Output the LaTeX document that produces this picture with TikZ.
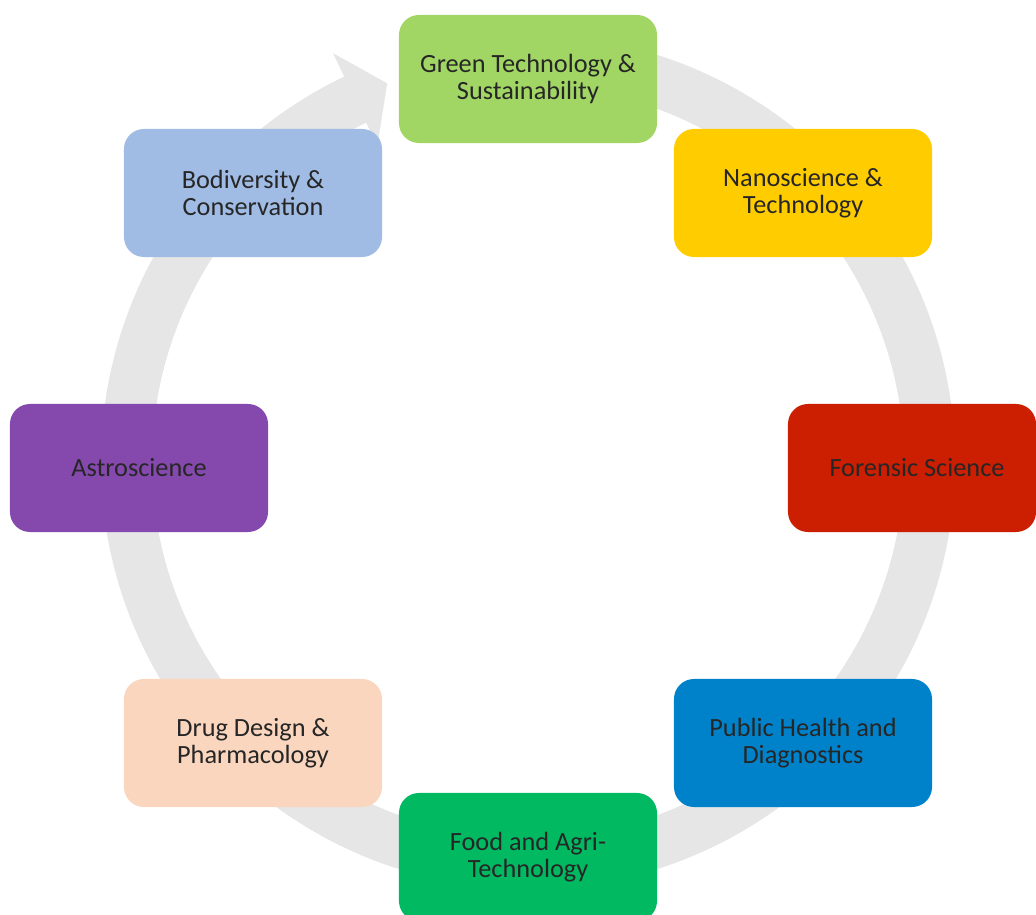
\documentclass[tikz,border=0pt]{standalone}
\usepackage{fontspec}
\setmainfont{Carlito}
\usetikzlibrary{calc}
\definecolor{ringgray}{RGB}{230,230,230}
\definecolor{txt}{RGB}{38,38,38}
\definecolor{cgreen}{RGB}{161,213,100}
\definecolor{cnano}{RGB}{255,204,0}
\definecolor{cforensic}{RGB}{204,30,0}
\definecolor{cpublic}{RGB}{0,130,202}
\definecolor{cfood}{RGB}{0,185,97}
\definecolor{cdrug}{RGB}{250,214,190}
\definecolor{castro}{RGB}{133,72,173}
\definecolor{cbio}{RGB}{160,188,228}
\tikzset{
  topic/.style={rounded corners=0.5cm, minimum width=6.45cm, minimum height=3.2cm,
    align=center, text=txt, font=\fontsize{18.7}{19.2}\selectfont, inner sep=0pt},
}
\begin{document}
\begin{tikzpicture}[x=0.025cm,y=0.025cm]
\useasboundingbox (0,0) rectangle (1036,914);
\coordinate (c) at (528,452);
% circular arrow
\fill[ringgray] ($(c)+(85:427)$) arc[start angle=85, end angle=-244.5, radius=427]
  -- ($(c)+(-244.5:453)$) -- ($(c)+(-249.6:404)$) -- ($(c)+(-244.5:350)$)
  -- ($(c)+(-244.5:376)$) arc[start angle=-244.5, end angle=85, radius=376] -- cycle;
% topics
\node[topic, fill=cgreen] (green) at (528,835) {Green Technology \&\\Sustainability};
\node[topic, fill=cnano] (nano) at (803,721) {Nanoscience \&\\Technology};
\node[topic, fill=cforensic, minimum width=6.2cm] (forensic) at (912,446) {\hspace*{0.25cm}Forensic Science};
\node[topic, fill=cpublic] (public) at (803,171) {Public Health and\\Diagnostics};
\node[topic, fill=cfood] (food) at (528,57) {Food and Agri-\\Technology};
\node[topic, fill=cdrug] (drug) at (253,171) {Drug Design \&\\Pharmacology};
\node[topic, fill=castro] (astro) at (139,446) {Astroscience};
\node[topic, fill=cbio] (bio) at (253,721) {Bodiversity \&\\Conservation};
\end{tikzpicture}
\end{document}
